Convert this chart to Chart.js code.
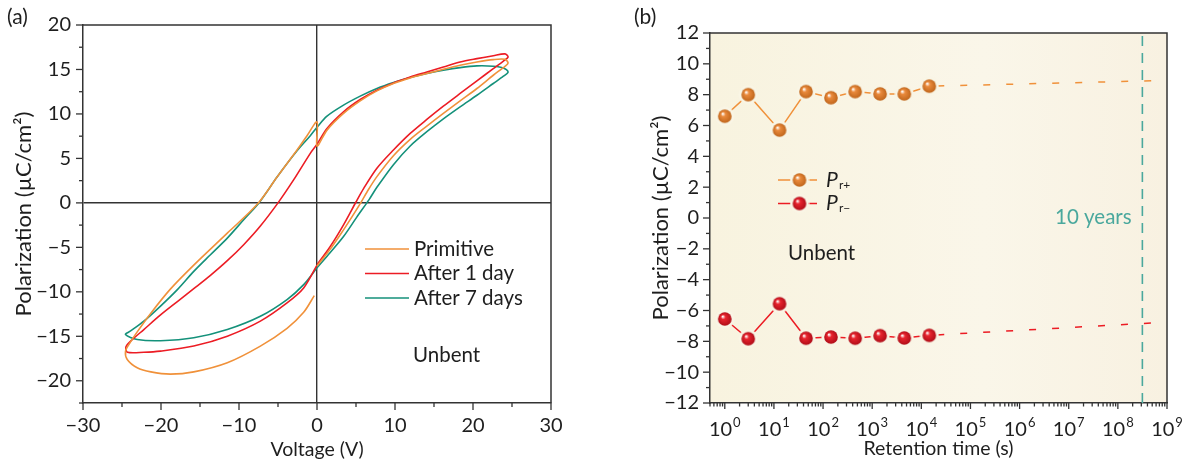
<!DOCTYPE html>
<html>
<head>
<meta charset="utf-8">
<script src="https://cdn.jsdelivr.net/npm/chart.js@4.4.1/dist/chart.umd.min.js"></script>
<style>
  body { margin: 0; background: #fff; width: 1187px; height: 464px; overflow: hidden; position: relative; }
  #loops { position: absolute; left: 0; top: 0; }
  #retention { position: absolute; left: 590px; top: 0; }
</style>
</head>
<body>
<canvas id="loops" width="590" height="464"></canvas>
<canvas id="retention" width="597" height="464"></canvas>
<script>
// ---- (a) P-V loops: voltage (V) / polarization (uC/cm2)
const primitiveV = [0, 1.7, 3.4, 4.5, 5.6, 6.6, 7.68, 9.8, 11.95, 14.08, 16.2, 18.35, 20.5, 22.6, 24.1, 24.5,
  24.1, 22.6, 20.5, 18.35, 16.2, 14.08, 11.95, 9.8, 7.68, 5.54, 3.4, 1.28, 0,
  0, -1.28, -2.56, -5.12, -7.6, -11.5, -15.8, -18.8, -21.3, -23.05, -24.1, -24.55,
  -24.33, -23.05, -21.3, -18.8, -15.8, -11.5, -7.26, -3.84, -1.71, -0.35];
const primitiveP = [-7.1, -5.2, -3.03, -1.55, 0, 1.5, 2.95, 5.3, 7.14, 8.63, 10.06, 11.47, 12.86, 14.35, 15.36, 15.73,
  16.14, 16.11, 15.84, 15.47, 15.02, 14.54, 14.05, 13.42, 12.59, 11.47, 10.06, 8.18, 6.39,
  9.11, 7.55, 5.95, 2.9, -0.1, -3.4, -7.0, -9.7, -12.4, -14.5, -15.9, -16.67,
  -17.6, -18.53, -19.0, -19.25, -19.0, -17.97, -16.1, -14.1, -12.3, -10.43];

const day1V = [0, 1.7, 3.4, 5.0, 5.97, 7.68, 9.8, 11.95, 14.08, 16.2, 18.35, 20.5, 22.6, 23.9, 24.5,
  24.1, 22.6, 20.5, 18.35, 16.2, 14.08, 11.95, 9.8, 7.68, 5.54, 3.4, 1.28, 0,
  -0.86, -3.0, -5.0, -7.26, -9.4, -11.5, -13.66, -15.8, -17.9, -20.06, -22.2, -23.9, -24.5,
  -24.3, -22.2, -20.06, -15.8, -11.5, -7.26, -3.84, -1.71, 0];
const day1P = [-6.95, -4.9, -2.47, 0.1, 1.6, 3.89, 5.94, 7.81, 9.38, 10.87, 12.3, 13.71, 15.1, 15.95, 16.4,
  16.75, 16.55, 16.22, 15.84, 15.28, 14.72, 14.16, 13.49, 12.67, 11.62, 10.24, 8.37, 6.6,
  5.57, 2.58, 0, -2.6, -4.7, -6.5, -8.15, -9.65, -11.1, -12.6, -14.24, -15.55, -16.2,
  -16.8, -16.8, -16.67, -16.1, -14.99, -13.3, -11.25, -9.57, -7.0];

const day7V = [0, 1.7, 3.4, 5.1, 6.7, 7.68, 9.8, 11.95, 14.08, 16.2, 18.35, 20.5, 22.6, 23.9, 24.5,
  23.9, 22.6, 20.5, 18.35, 16.2, 14.08, 11.95, 9.8, 7.68, 5.54, 3.4, 1.28, 0,
  -0.86, -2.56, -5.12, -7.4, -9.4, -11.5, -13.66, -15.8, -17.9, -20.06, -22.2, -23.9, -24.55,
  -23.05, -20.06, -15.8, -11.5, -7.26, -3.84, -1.71, 0];
const day7P = [-7.3, -5.57, -3.78, -1.6, 0.4, 1.75, 4.3, 6.4, 8.0, 9.45, 10.8, 12.1, 13.42, 14.24, 14.72,
  15.17, 15.36, 15.4, 15.21, 14.91, 14.54, 14.09, 13.53, 12.86, 12.0, 10.99, 9.75, 8.5,
  7.55, 5.85, 2.9, 0.05, -1.9, -3.96, -5.83, -7.7, -9.75, -11.6, -13.3, -14.4, -14.8,
  -15.36, -15.5, -15.17, -14.24, -12.75, -10.87, -9.19, -7.3];

const loopLabels = ['Primitive', 'After 1 day', 'After 7 days'];

// ---- (b) retention
const retentionTime = [1, 3, 13, 45, 145, 450, 1450, 4500, 14500]; // s
const prPlus = [6.6, 8.0, 5.7, 8.2, 7.8, 8.2, 8.05, 8.05, 8.55];
const prMinus = [-6.55, -7.83, -5.56, -7.8, -7.72, -7.8, -7.63, -7.78, -7.61];
const fitTime = [14500, 5e8];
const fitPlus = [8.55, 8.9];
const fitMinus = [-7.61, -6.81];
const tenYears = 3.1536e8; // s
const decadeExponents = [0, 1, 2, 3, 4, 5, 6, 7, 8, 9];

const FONT = "Lato, 'Open Sans', sans-serif";
const INK = '#1e1e1e';
const AXIS = '#333';
const ORANGE = '#f0913a';
const RED = '#ec1c24';
const GREEN = '#14917a';
const TEAL = '#4aa89d';
const CREAM = 'rgb(249,245,229)';
const TICK = 20;   // tick label size
const LABEL = 20.5; // legend and note text

const pts = (xs, ys) => xs.map((x, i) => ({ x: x, y: ys[i] }));
const minus = v => (v < 0 ? '\u2212' + Math.abs(v) : String(v));

function text(ctx, s, x, y, size, color, align, style) {
  ctx.font = (style || '') + ' ' + size + 'px ' + FONT;
  ctx.fillStyle = color;
  ctx.textAlign = align || 'left';
  ctx.textBaseline = 'middle';
  ctx.fillText(s, x, y);
}

// outward tick marks, long for labelled ticks, short for the rest
function tickMarks(chart, scale, isMajor, majorLen, minorLen) {
  const ctx = chart.ctx, a = chart.chartArea;
  ctx.save();
  ctx.strokeStyle = AXIS;
  ctx.lineWidth = 1.3;
  scale.ticks.forEach(t => {
    const p = scale.getPixelForValue(t.value);
    const len = isMajor(t.value) ? majorLen : minorLen;
    ctx.beginPath();
    if (scale.isHorizontal()) { ctx.moveTo(p, a.bottom); ctx.lineTo(p, a.bottom + len); }
    else { ctx.moveTo(a.left, p); ctx.lineTo(a.left - len, p); }
    ctx.stroke();
  });
  ctx.restore();
}

function frame(chart) {
  const ctx = chart.ctx, a = chart.chartArea;
  ctx.save();
  ctx.strokeStyle = AXIS;
  ctx.lineWidth = 1.5;
  ctx.beginPath();
  ctx.moveTo(a.left, a.top); ctx.lineTo(a.right, a.top); ctx.lineTo(a.right, a.bottom);
  ctx.stroke();
  ctx.restore();
}

// glossy ball marker with a ring of background colour (gives the gap in the line)
function ball(base, dark) {
  const r = 6.8, ring = 2.8, size = 20, m = size / 2;
  const c = document.createElement('canvas');
  c.width = c.height = size;
  const g = c.getContext('2d');
  g.fillStyle = CREAM;
  g.beginPath(); g.arc(m, m, r + ring, 0, Math.PI * 2); g.fill();
  const grad = g.createRadialGradient(m - 2.2, m - 2.6, 0.4, m, m, r);
  grad.addColorStop(0, '#fff');
  grad.addColorStop(0.3, base);
  grad.addColorStop(1, dark);
  g.fillStyle = grad;
  g.beginPath(); g.arc(m, m, r, 0, Math.PI * 2); g.fill();
  return c;
}
const orangeBall = ball('#ea8a3c', '#c0661c');
const redBall = ball('#e8242e', '#b00d18');

function tickFont() { return { family: FONT, size: TICK }; }

// ---------------- panel (a)
const loopColors = [ORANGE, RED, GREEN];
const panelA = {
  id: 'panelA',
  afterDraw(chart) {
    const ctx = chart.ctx;
    frame(chart);
    tickMarks(chart, chart.scales.x, v => v % 10 === 0, 7, 4);
    tickMarks(chart, chart.scales.y, v => v % 5 === 0, 7, 4);
    text(ctx, '(a)', 7, 17, 21, INK);
    const rows = [249, 273.5, 298];
    loopLabels.forEach((lab, i) => {
      ctx.save();
      ctx.strokeStyle = loopColors[i];
      ctx.lineWidth = 1.6;
      ctx.beginPath(); ctx.moveTo(365, rows[i]); ctx.lineTo(409, rows[i]); ctx.stroke();
      ctx.restore();
      text(ctx, lab, 414, rows[i], LABEL, INK);
    });
    text(ctx, 'Unbent', 413, 355, LABEL, INK);
  }
};

new Chart(document.getElementById('loops').getContext('2d'), {
  type: 'scatter',
  data: {
    datasets: [
      { label: loopLabels[0], data: pts(primitiveV, primitiveP), borderColor: ORANGE },
      { label: loopLabels[1], data: pts(day1V, day1P), borderColor: RED },
      { label: loopLabels[2], data: pts(day7V, day7P), borderColor: GREEN },
    ].map(d => Object.assign(d, { showLine: true, borderWidth: 1.6, pointRadius: 0, tension: 0.3, fill: false })),
  },
  options: {
    responsive: false,
    animation: false,
    layout: { padding: { top: 25, right: 39, left: 0, bottom: 0 } },
    plugins: { legend: { display: false }, tooltip: { enabled: false } },
    scales: {
      x: {
        type: 'linear', min: -30, max: 30,
        ticks: { stepSize: 5, autoSkip: false, maxRotation: 0, padding: 11, color: INK, font: tickFont(),
          callback: v => (v % 10 === 0 ? minus(v) : '') },
        grid: { drawTicks: false, lineWidth: 1.4, color: c => (c.tick && c.tick.value === 0 ? AXIS : 'rgba(0,0,0,0)') },
        border: { color: AXIS, width: 1.5 },
        title: { display: true, text: 'Voltage (V)', color: INK, font: { family: FONT, size: 19.5 }, padding: { top: 0, bottom: 3 } },
        afterFit: s => { s.height = 61; },
      },
      y: {
        type: 'linear', min: -22.5, max: 20,
        ticks: { stepSize: 2.5, autoSkip: false, padding: 12, color: INK, font: tickFont(),
          callback: v => (v % 5 === 0 ? minus(v) : '') },
        grid: { drawTicks: false, lineWidth: 1.4, color: c => (c.tick && c.tick.value === 0 ? AXIS : 'rgba(0,0,0,0)') },
        border: { color: AXIS, width: 1.5 },
        title: { display: true, text: 'Polarization (\u00b5C/cm\u00b2)', color: INK, font: { family: FONT, size: 22 }, padding: { top: 11, bottom: 0 } },
        afterFit: s => { s.width = 83; },
      },
    },
  },
  plugins: [panelA],
});

// ---------------- panel (b)
const isDecade = v => Math.abs(Math.log10(v) - Math.round(Math.log10(v))) < 1e-9;

const panelB = {
  id: 'panelB',
  beforeDraw(chart) {
    const ctx = chart.ctx, a = chart.chartArea;
    const g = ctx.createLinearGradient(a.left, 0, a.right, 0);
    g.addColorStop(0, 'rgb(248,243,223)');
    g.addColorStop(0.6, 'rgb(250,246,233)');
    g.addColorStop(1, 'rgb(248,241,225)');
    ctx.save();
    ctx.fillStyle = g;
    ctx.fillRect(a.left, a.top, a.right - a.left, a.bottom - a.top);
    ctx.restore();
  },
  afterDraw(chart) {
    const ctx = chart.ctx, a = chart.chartArea;
    const xs = chart.scales.x;
    frame(chart);
    tickMarks(chart, xs, isDecade, 6, 3.5);
    tickMarks(chart, chart.scales.y, v => v % 2 === 0, 7, 4);

    // 10^n tick labels
    decadeExponents.forEach(e => {
      const p = xs.getPixelForValue(Math.pow(10, e));
      ctx.font = TICK + 'px ' + FONT;
      const wb = ctx.measureText('10').width;
      ctx.font = '13px ' + FONT;
      const we = ctx.measureText(String(e)).width;
      const x0 = p - (wb + we + 1) / 2;
      text(ctx, '10', x0, a.bottom + 27, TICK, INK);
      text(ctx, String(e), x0 + wb + 1, a.bottom + 19.5, 13, INK);
    });

    text(ctx, '(b)', 44, 17, 21, INK);

    // legend
    const rows = [{ y: 180, c: ORANGE, b: orangeBall, s: 'r+' }, { y: 203.5, c: RED, b: redBall, s: 'r\u2212' }];
    rows.forEach(r => {
      ctx.save();
      ctx.strokeStyle = r.c;
      ctx.lineWidth = 1.5;
      ctx.beginPath(); ctx.moveTo(188, r.y); ctx.lineTo(227, r.y); ctx.stroke();
      ctx.drawImage(r.b, 209.5 - 10, r.y - 10);
      ctx.restore();
      text(ctx, 'P', 236, r.y, 21, INK, 'left', 'italic');
      text(ctx, r.s, 249, r.y + 5, 12, INK);
    });

    text(ctx, 'Unbent', 198, 253, LABEL, INK);
    text(ctx, '10 years', 465, 217, LABEL, TEAL);
  }
};

new Chart(document.getElementById('retention').getContext('2d'), {
  type: 'scatter',
  data: {
    datasets: [
      { label: 'Pr+', data: pts(retentionTime, prPlus), showLine: true, borderColor: ORANGE, borderWidth: 1.5,
        pointStyle: orangeBall, pointRadius: 7, tension: 0 },
      { label: 'Pr-', data: pts(retentionTime, prMinus), showLine: true, borderColor: RED, borderWidth: 1.5,
        pointStyle: redBall, pointRadius: 7, tension: 0 },
      { label: 'Pr+ fit', data: pts(fitTime, fitPlus), showLine: true, borderColor: ORANGE, borderWidth: 1.5,
        borderDash: [7, 16], borderDashOffset: 15, pointRadius: 0 },
      { label: 'Pr- fit', data: pts(fitTime, fitMinus), showLine: true, borderColor: RED, borderWidth: 1.5,
        borderDash: [7, 16], borderDashOffset: 15, pointRadius: 0 },
      { label: '10 years', data: [{ x: tenYears, y: -12 }, { x: tenYears, y: 12 }], showLine: true, borderColor: TEAL,
        borderWidth: 1.6, borderDash: [10, 7], pointRadius: 0 },
    ],
  },
  options: {
    responsive: false,
    animation: false,
    layout: { padding: { top: 33, right: 20, left: 0, bottom: 0 } },
    plugins: { legend: { display: false }, tooltip: { enabled: false } },
    scales: {
      x: {
        type: 'logarithmic', min: 0.5, max: 1e9,
        afterBuildTicks: axis => {
          const t = [];
          for (let e = -1; e <= 8; e++) {
            for (let k = 1; k <= 9; k++) {
              const v = k * Math.pow(10, e);
              if (v >= 0.5) t.push({ value: v });
            }
          }
          t.push({ value: 1e9 });
          axis.ticks = t;
        },
        ticks: { display: false, autoSkip: false },
        grid: { drawTicks: false, drawOnChartArea: false },
        border: { color: AXIS, width: 1.5 },
        title: { display: true, text: 'Retention time (s)', color: INK, font: { family: FONT, size: 19.5 }, padding: { top: 0, bottom: 4 } },
        afterFit: s => { s.height = 61; },
      },
      y: {
        type: 'linear', min: -12, max: 12,
        ticks: { stepSize: 1, autoSkip: false, padding: 11, color: INK, font: tickFont(),
          callback: v => (v % 2 === 0 ? minus(v) : '') },
        grid: { drawTicks: false, drawOnChartArea: false },
        border: { color: AXIS, width: 1.5 },
        title: { display: true, text: 'Polarization (\u00b5C/cm\u00b2)', color: INK, font: { family: FONT, size: 22 }, padding: { top: 58, bottom: 0 } },
        afterFit: s => { s.width = 120; },
      },
    },
  },
  plugins: [panelB],
});
</script>
</body>
</html>
